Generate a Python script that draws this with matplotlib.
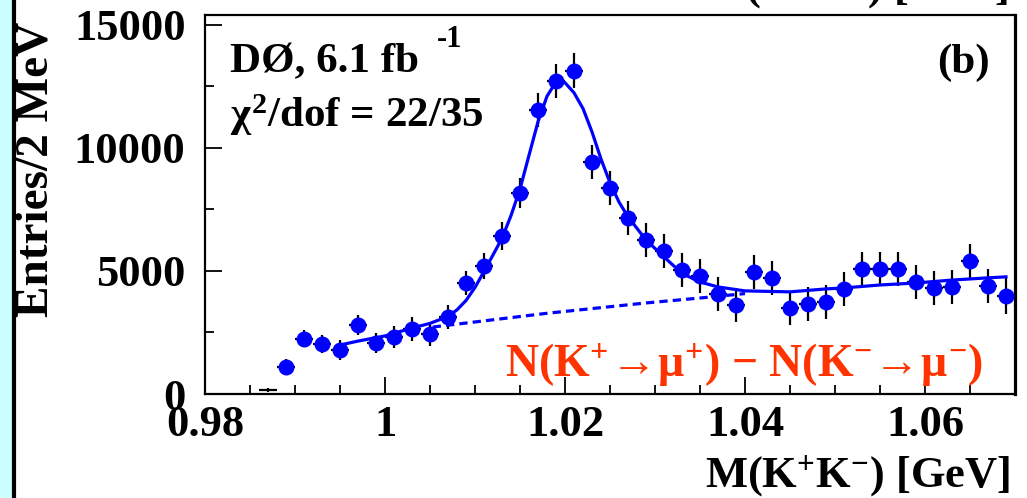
import numpy as np
import matplotlib
matplotlib.use("Agg")
import matplotlib.pyplot as plt
from matplotlib.ticker import MultipleLocator, FixedLocator, FixedFormatter
from matplotlib.patches import Rectangle

plt.rcParams['font.family'] = ['Liberation Serif', 'DejaVu Serif']
plt.rcParams['font.weight'] = 'bold'
plt.rcParams['mathtext.fontset'] = 'custom'
plt.rcParams['mathtext.rm'] = 'Liberation Serif:bold'
plt.rcParams['mathtext.it'] = 'Liberation Serif:bold'
plt.rcParams['mathtext.bf'] = 'Liberation Serif:bold'

# K+K- mass bin centres (GeV), 2 MeV bins
mass = [0.987, 0.989, 0.991, 0.993, 0.995, 0.997, 0.999, 1.001, 1.003, 1.005,
        1.007, 1.009, 1.011, 1.013, 1.015, 1.017, 1.019, 1.021, 1.023, 1.025,
        1.027, 1.029, 1.031, 1.033, 1.035, 1.037, 1.039, 1.041, 1.043, 1.045,
        1.047, 1.049, 1.051, 1.053, 1.055, 1.057, 1.059, 1.061, 1.063, 1.065,
        1.067, 1.069]
entries = [150, 1100, 2240, 2030, 1790, 2800, 2070, 2320, 2640, 2440,
           3130, 4510, 5200, 6420, 8170, 11540, 12720, 13130, 9430, 8370,
           7150, 6260, 5810, 5040, 4800, 4070, 3620, 4960, 4720, 3500,
           3660, 3740, 4270, 5080, 5080, 5080, 4550, 4310, 4350, 5410,
           4390, 3980]
errors = [80, 330, 350, 370, 400, 410, 420, 440, 470, 480,
          480, 500, 520, 560, 620, 690, 700, 710, 700, 690,
          690, 690, 690, 690, 690, 690, 690, 690, 690, 680,
          680, 680, 680, 690, 690, 690, 690, 690, 690, 700,
          700, 720]

# fit curve
fit_x = [0.995, 0.997, 1.000, 1.003, 1.005, 1.007, 1.008, 1.009, 1.010, 1.011,
         1.012, 1.013, 1.014, 1.015, 1.016, 1.017, 1.018, 1.019, 1.0195, 1.020,
         1.021, 1.022, 1.023, 1.024, 1.025, 1.026, 1.027, 1.029, 1.031, 1.033,
         1.035, 1.037, 1.040, 1.045, 1.049, 1.051, 1.055, 1.059, 1.063, 1.067,
         1.069]
fit_y = [1990, 2150, 2360, 2680, 2870, 3150, 3420, 3800, 4330, 4980,
         5650, 6330, 7250, 8330, 9700, 11060, 12100, 12680, 12800, 12650,
         12240, 11600, 10650, 9550, 8580, 7800, 7200, 6260, 5570, 4900,
         4550, 4350, 4190, 4150, 4270, 4310, 4430, 4510, 4630, 4720,
         4760]

# background component (dashed)
bkg_x = [1.0053, 1.018, 1.029, 1.035, 1.040]
bkg_y = [2720, 3280, 3700, 3900, 4080]

xtick_vals = [0.98, 1.00, 1.02, 1.04, 1.06]
xtick_labels = ['0.98', '1', '1.02', '1.04', '1.06']

blue = '#0000ff'
red = '#ff3300'

fig = plt.figure(figsize=(10.27, 4.98), dpi=100)
fig.patches.append(Rectangle((0, 0), 13 / 1027, 1, transform=fig.transFigure,
                             facecolor='#ccffff', edgecolor='none', zorder=0))
fig.add_artist(plt.Line2D([14 / 1027, 14 / 1027], [0, 1], color='black', lw=3,
                          transform=fig.transFigure))

ax = fig.add_axes([205 / 1027, 1 - 394 / 498, 810 / 1027, 379 / 498])

m = np.array(mass)
n = np.array(entries)
e = np.array(errors)
ax.errorbar(m, n, yerr=e, xerr=0.001, fmt='none', ecolor='black', elinewidth=1.6,
            capsize=0, zorder=2)
show = n > 500
ax.plot(m[show], n[show], 'o', color=blue, markersize=11.5, markeredgewidth=0,
        zorder=3)

ax.plot(fit_x, fit_y, '-', color=blue, lw=2.3, zorder=4)
ax.plot(bkg_x, bkg_y, color=blue, lw=2.3, linestyle=(0, (2.6, 1.6)), zorder=4)

ax.set_xlim(0.98, 1.07)
ax.set_ylim(0, 15400)
ax.xaxis.set_major_locator(FixedLocator(xtick_vals))
ax.xaxis.set_major_formatter(FixedFormatter(xtick_labels))
ax.xaxis.set_minor_locator(MultipleLocator(0.005))
ax.yaxis.set_major_locator(MultipleLocator(5000))
ax.yaxis.set_minor_locator(MultipleLocator(2500))
ax.tick_params(which='both', direction='in', top=False, right=False, width=1.3,
               labelsize=32)
ax.tick_params(which='major', length=12.5)
ax.tick_params(which='minor', length=6.5)
ax.tick_params(axis='x', pad=8)
ax.tick_params(axis='y', pad=14)
for lab in ax.get_xticklabels() + ax.get_yticklabels():
    lab.set_fontweight('bold')
for s in ax.spines.values():
    s.set_linewidth(1.6)
ax.spines['right'].set_linewidth(2.3)

ax.text(0.031, 0.85, 'DØ, 6.1 fb', transform=ax.transAxes, fontsize=31,
        fontweight='bold', va='baseline', ha='left')
ax.text(0.286, 0.915, '-1', transform=ax.transAxes, fontsize=22,
        fontweight='bold', va='baseline', ha='left')
ax.text(0.031, 0.704, r'$\chi^{2}$/dof = 22/35', transform=ax.transAxes,
        fontsize=31, fontweight='bold', va='baseline', ha='left')
ax.text(0.969, 0.848, '(b)', transform=ax.transAxes, fontsize=31,
        fontweight='bold', va='baseline', ha='right')
ax.text(0.961, 0.045,
        r'N(K$^{+}\!\rightarrow\!\mu^{+}$) $-$ N(K$^{-}\!\rightarrow\!\mu^{-}$)',
        transform=ax.transAxes, fontsize=33, fontweight='bold', color=red,
        va='baseline', ha='right')

fig.text(1010 / 1027, 1 - 487 / 498, r'M(K$^{+}$K$^{-}$) [GeV]', fontsize=32,
         fontweight='bold', ha='right', va='baseline')
# bottom of the label from the panel above, cut by the frame
fig.text(1008 / 1027, 1 + 1 / 498, r'M(K$^{+}$K$^{-}$) [GeV]', fontsize=32,
         fontweight='bold', ha='right', va='baseline')
fig.text(37 / 1027, 1 - 22 / 498, 'Entries/2 MeV', fontsize=34, fontweight='bold',
         rotation=90, ha='center', va='top')

fig.savefig('out.png', dpi=100)
